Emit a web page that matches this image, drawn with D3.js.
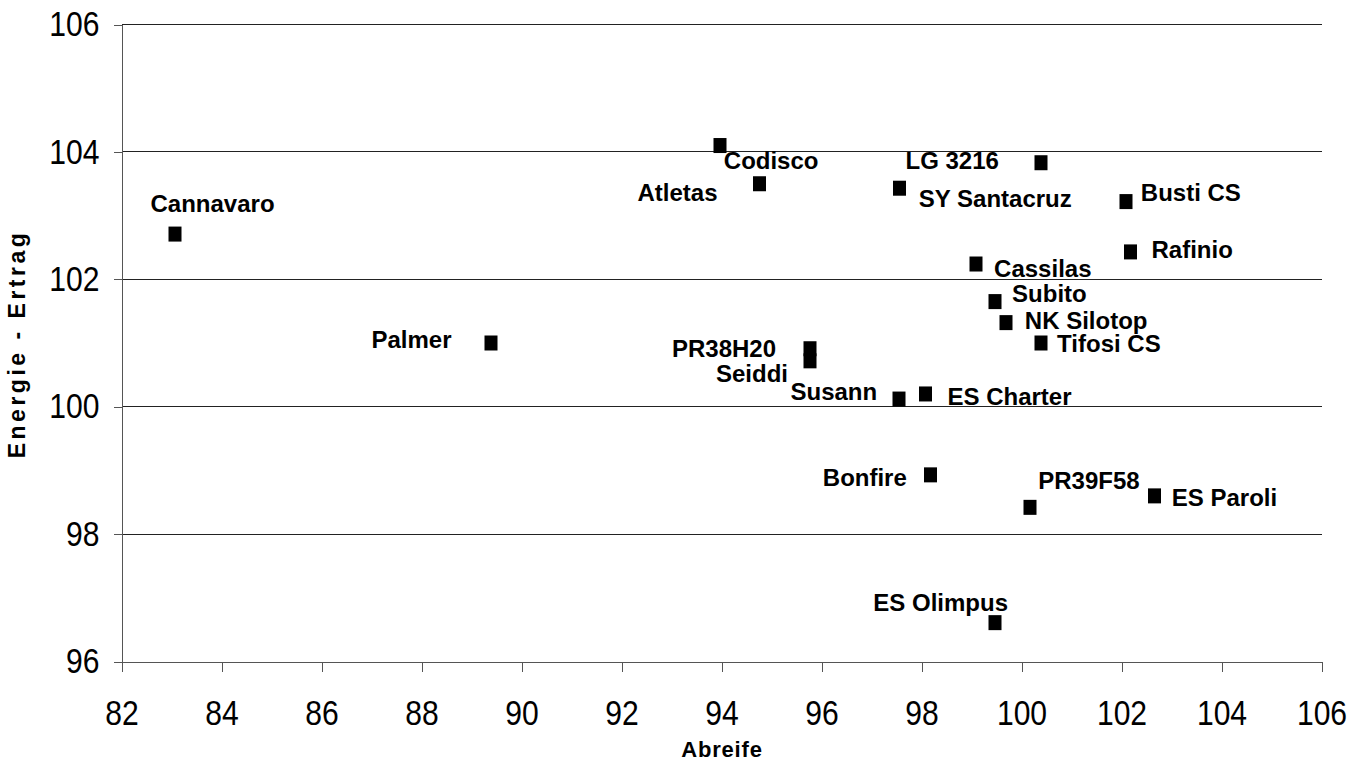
<!DOCTYPE html>
<html>
<head>
<meta charset="utf-8">
<script src="https://cdn.jsdelivr.net/npm/d3@7"></script>
<style>
  body { margin: 0; background: #fff; }
  svg { display: block; }
  .tick text { font-family: "Liberation Sans", Arial, sans-serif; font-size: 35px; fill: #000; }
  .labels { font-family: "Liberation Sans", Arial, sans-serif; font-weight: bold; fill: #000; }
  .pt-label { font-family: "Liberation Sans", Arial, sans-serif; font-weight: bold; font-size: 24px; fill: #000; }
</style>
</head>
<body>
<div id="vis"></div>
<script>
// sorten: Abreife (x) vs. Energie-Ertrag (y), relativ
const names = ["Cannavaro", "Palmer", "Codisco", "Atletas", "PR38H20", "Seiddi", "Susann",
  "SY Santacruz", "ES Charter", "Bonfire", "Cassilas", "Subito", "ES Olimpus", "NK Silotop",
  "PR39F58", "LG 3216", "Tifosi CS", "Busti CS", "Rafinio", "ES Paroli"]
const abreife = [83.07, 89.39, 93.97, 94.76, 95.77, 95.77, 97.55,
  97.56, 98.08, 98.18, 99.09, 99.47, 99.47, 99.69,
  100.17, 100.39, 100.39, 102.09, 102.18, 102.66]
const ertrag = [102.71, 101.0, 104.1, 103.5, 100.91, 100.72, 100.12,
  103.43, 100.2, 98.93, 102.24, 101.65, 96.61, 101.32,
  98.42, 103.83, 101.0, 103.22, 102.43, 98.6]
const xTicks = [82, 84, 86, 88, 90, 92, 94, 96, 98, 100, 102, 104, 106]
const yTicks = [96, 98, 100, 102, 104, 106]

// label placement (pixels relative to marker), like the hand-moved labels in the original
const labelDx = [-24.5, -119.5, 3.8, -122, -138, -94, -108.5,
  19.3, 22, -107.7, 18.1, 17.1, -121.7, 18.8,
  8.2, -135.5, 16.1, 14.8, 21, 17.3]
const labelDy = [-21.8, 4.7, 23.6, 16.8, 8.6, 20.9, 1,
  18.9, 11.1, 11.3, 12.6, 0.1, -11.5, 6.7,
  -18.5, 6.1, 8.7, -0.7, 6.3, 10.4]

const margin = {top: 24.5, right: 38.5, bottom: 100.5, left: 121.5}
const width = 1360 - margin.left - margin.right
const height = 762 - margin.top - margin.bottom
const narrow = 0.86 // tick labels look condensed in the original

const data = names.map((n, i) => ({name: n, x: abreife[i], y: ertrag[i], dx: labelDx[i], dy: labelDy[i]}))

const svg = d3.select('#vis')
    .append('svg')
    .attr('width', 1360)
    .attr('height', 762)
    .append('g')
    .attr('transform', `translate(${margin.left},${margin.top})`)

let xScale = d3.scaleLinear().domain([82, 106]).range([0, width])
let yScale = d3.scaleLinear().domain([96, 106]).range([height, 0])

// horizontal gridlines
svg.selectAll('.grid')
    .data(yTicks.filter(d => d > 96))
    .enter()
    .append('line')
    .attr('class', 'grid')
    .attr('x1', 0)
    .attr('x2', width)
    .attr('y1', d => Math.round(yScale(d)))
    .attr('y2', d => Math.round(yScale(d)))
    .attr('stroke', '#222')
    .attr('stroke-width', 1)
    .attr('shape-rendering', 'crispEdges')

let xAxis = svg.append('g')
    .attr('transform', `translate(0,${height})`)
    .call(d3.axisBottom(xScale).tickValues(xTicks).tickSize(10).tickSizeOuter(0).tickPadding(29))

let yAxis = svg.append('g')
    .call(d3.axisLeft(yScale).tickValues(yTicks).tickSize(8).tickSizeOuter(0).tickPadding(14))

xAxis.selectAll('.tick text')
    .attr('transform', `scale(${narrow},1)`)

yAxis.selectAll('.tick text')
    .attr('x', -22 / narrow)
    .attr('transform', `scale(${narrow},1)`)

svg.selectAll('.domain, .tick line')
    .attr('stroke', '#555')
    .attr('shape-rendering', 'crispEdges')

// markers
svg.selectAll('.pt')
    .data(data)
    .enter()
    .append('rect')
    .attr('class', 'pt')
    .attr('x', d => xScale(d.x) - 6.5)
    .attr('y', d => yScale(d.y) - 7.5)
    .attr('width', 13)
    .attr('height', 15)
    .attr('fill', '#000')

svg.selectAll('.pt-label')
    .data(data)
    .enter()
    .append('text')
    .attr('class', 'pt-label')
    .attr('x', d => xScale(d.x) + d.dx)
    .attr('y', d => yScale(d.y) + d.dy)
    .text(d => d.name)

// axis titles
svg.append('text')
    .attr('class', 'labels')
    .attr('x', 722 - margin.left)
    .attr('y', 757 - margin.top)
    .attr('text-anchor', 'middle')
    .style('font-size', '22px')
    .style('letter-spacing', '0.8px')
    .text('Abreife')

svg.append('text')
    .attr('class', 'labels')
    .attr('transform', `translate(${25 - margin.left},${344 - margin.top}) rotate(-90)`)
    .attr('text-anchor', 'middle')
    .style('font-size', '23px')
    .style('letter-spacing', '3.5px')
    .text('Energie - Ertrag')
</script>
</body>
</html>
